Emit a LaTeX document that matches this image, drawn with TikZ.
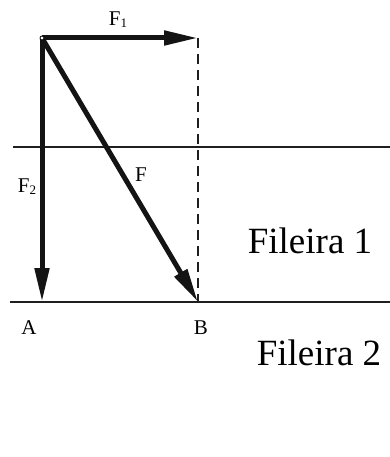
\documentclass[tikz,border=0pt]{standalone}
\usepackage{fontspec}
\setmainfont{Liberation Serif}
\usetikzlibrary{arrows.meta}
\begin{document}
\begin{tikzpicture}[x=1pt,y=1pt,
  vec/.style={line width=5pt,-{Triangle[length=34pt,width=14pt]},color=black!92},
  thinline/.style={line width=1.4pt,color=black!88},
  dashline/.style={line width=1.3pt,dash pattern=on 10pt off 6pt,color=black!88},
  lbl/.style={font=\fontsize{21}{23}\selectfont,inner sep=0pt},
  big/.style={font=\fontsize{37}{40}\selectfont,inner sep=0pt}]
\useasboundingbox (0,0) rectangle (390,-457);
\coordinate (O) at (42,-38);
\coordinate (P1) at (198,-38);
\coordinate (A) at (42,-302);
\coordinate (B) at (198,-302);
\coordinate (L1a) at (13,-147);
\coordinate (L1b) at (390,-147);
\coordinate (L2a) at (10,-302);
\coordinate (L2b) at (390,-302);
\draw[thinline] (L1a) -- (L1b);
\draw[thinline] (L2a) -- (L2b);
\draw[dashline] (P1) -- (B);
\draw[vec] (O) -- (A);
\draw[vec] (O) -- (P1);
\draw[vec] (O) -- (B);
\node[circle,draw=black,fill=white,inner sep=0pt,minimum size=4pt,line width=0.8pt] (Oc) at (O) {};
\node[lbl] (tF1) at (118,-20) {F\raisebox{-0.2ex}{\fontsize{13}{13}\selectfont 1}};
\node[lbl] (tF2) at (27,-187) {F\raisebox{-0.2ex}{\fontsize{13}{13}\selectfont 2}};
\node[lbl] (tF) at (141,-175) {F};
\node[lbl] (tA) at (29,-328) {A};
\node[lbl] (tB) at (201,-328) {B};
\node[big] (f1) at (310,-241) {Fileira 1};
\node[big] (f2) at (319,-353) {Fileira 2};
\end{tikzpicture}
\end{document}
